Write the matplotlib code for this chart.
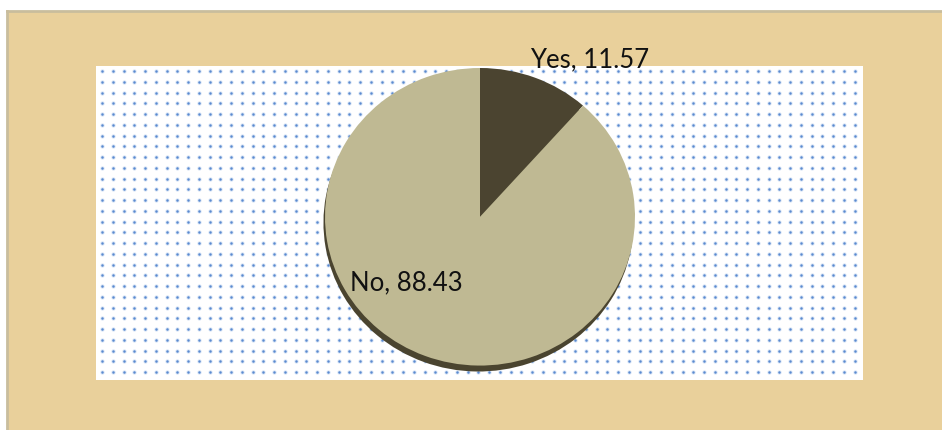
"""Pie chart: share of Yes / No answers."""

import matplotlib.pyplot as plt
import numpy as np

# data
labels = ["Yes", "No"]
values = [11.57, 88.43]
colors = ["#4b4430", "#bfb993"]

W, H = 942, 431


def px_box(x0, y0, x1, y1):
    """Pixel box (top-left origin) -> figure fraction rect."""
    return [x0 / W, 1 - y1 / H, (x1 - x0) / W, (y1 - y0) / H]


def bare(a):
    a.set_xticks([])
    a.set_yticks([])
    for s in a.spines.values():
        s.set_visible(False)


fig = plt.figure(figsize=(W / 100, H / 100), dpi=100)
fig.patch.set_facecolor("white")

# papyrus-coloured chart area
bg = fig.add_axes(px_box(7, 12, W, H))
bg.set_facecolor("#e9d09b")
bare(bg)
for side in ["left", "top"]:
    bg.spines[side].set_visible(True)
    bg.spines[side].set_color("#c9bd9d")
    bg.spines[side].set_linewidth(2)

# dotted plot area
pa = fig.add_axes(px_box(96, 67, 863, 381))
pa.set_facecolor("white")
bare(pa)
pa.set_xlim(96, 863)
pa.set_ylim(381, 67)
gx, gy = np.meshgrid(np.arange(102, 863, 10.75), np.arange(72, 381, 10.75))
pa.scatter(gx.ravel(), gy.ravel(), s=9, color="#d3e1f4", linewidths=0)
pa.scatter(gx.ravel(), gy.ravel(), s=3, color="#5a8ad0", linewidths=0)

# pie (slightly elliptical, with a dark shadow underneath)
ax = fig.add_axes(px_box(325, 69, 635, 374))
ax.pie(values, colors=["#4a442f"] * 2, startangle=90, counterclock=False,
       center=(-0.01, -0.04), radius=1.0)
ax.pie(values, colors=colors, startangle=90, counterclock=False,
       radius=1.0)
ax.set_aspect("auto")
ax.set_xlim(-1, 1)
ax.set_ylim(-1.05, 1)
ax.axis("off")

# data labels
font = dict(family="Lato", fontsize=18.5, color="#111111")
fig.text(590 / W, 1 - 60 / H, f"{labels[0]}, {values[0]}", ha="center", va="center", **font)
fig.text(406 / W, 1 - 283 / H, f"{labels[1]}, {values[1]}", ha="center", va="center", **font)

fig.savefig("out.png", dpi=100)
